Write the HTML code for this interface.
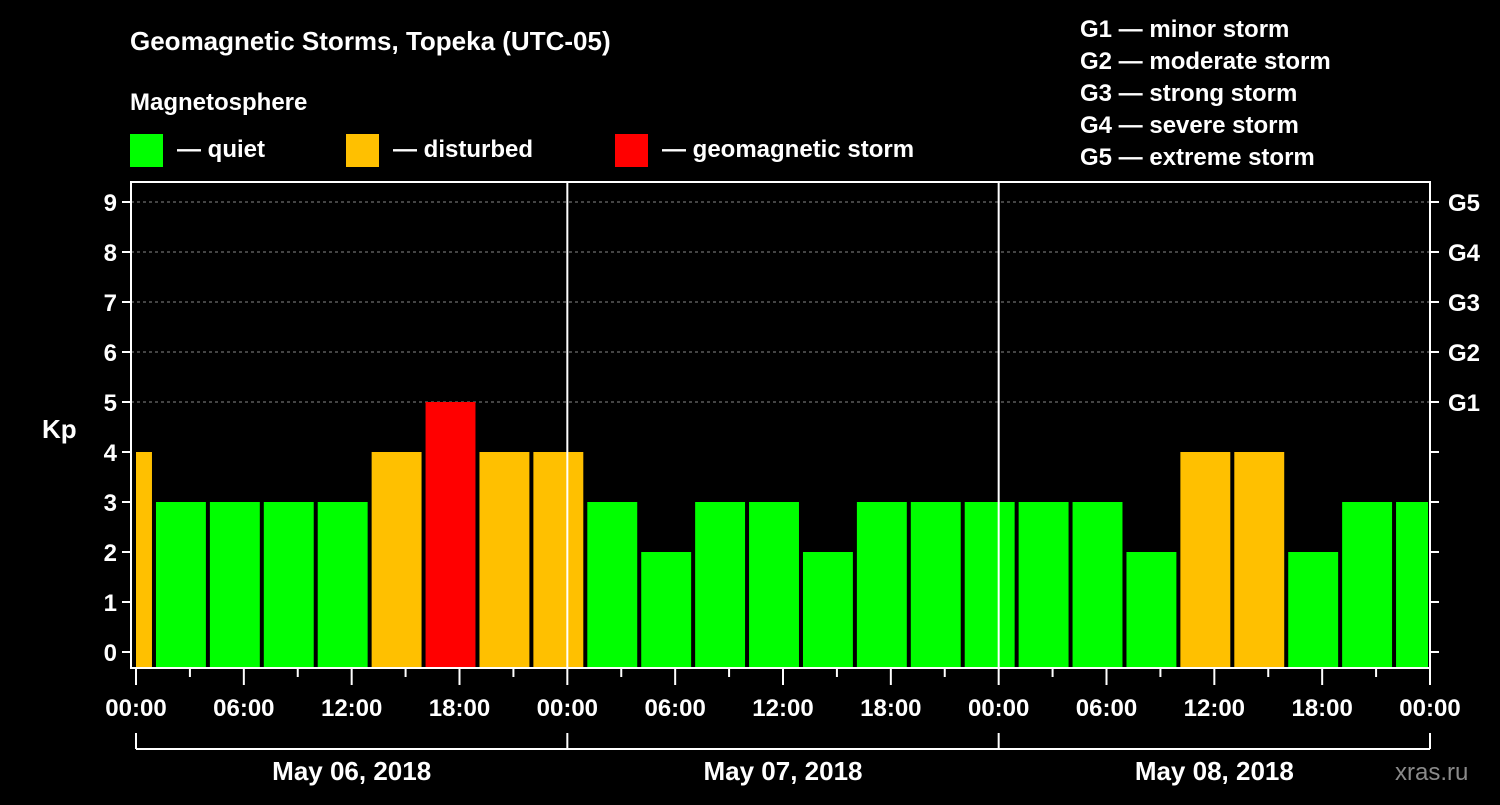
<!DOCTYPE html>
<html><head><meta charset="utf-8"><style>
body{margin:0;background:#000;width:1500px;height:800px;overflow:hidden}
svg text{font-family:"Liberation Sans",Arial,sans-serif;font-weight:bold;fill:#fff}
</style></head><body>
<svg id="c" width="1500" height="800">
<text x="130" y="50" font-size="26">Geomagnetic Storms, Topeka (UTC-05)</text>
<text x="130" y="110" font-size="24">Magnetosphere</text>
<g><rect x="130" y="134" width="33" height="33" fill="#00ff00"/><text x="177" y="157" font-size="24">— quiet</text></g>
<g><rect x="346" y="134" width="33" height="33" fill="#ffc000"/><text x="393" y="157" font-size="24">— disturbed</text></g>
<g><rect x="615" y="134" width="33" height="33" fill="#ff0000"/><text x="662" y="157" font-size="24">— geomagnetic storm</text></g>
<g font-size="24">
<text x="1080" y="37">G1 — minor storm</text><text x="1080" y="69">G2 — moderate storm</text><text x="1080" y="101">G3 — strong storm</text><text x="1080" y="133">G4 — severe storm</text><text x="1080" y="165">G5 — extreme storm</text></g>
<text x="42" y="438" font-size="26">Kp</text>
<text x="1395" y="780" font-size="24" fill="#888" style="fill:#8a8a8a;font-weight:normal">xras.ru</text>
<g id="plot"></g>
</svg>
<script>
const kpValues=[4,3,3,3,3,4,5,4,4,3,2,3,3,2,3,3,3,3,3,2,4,4,2,3,3];
const barStartHours=-2, slotHours=3;
const dayLabels=["May 06, 2018","May 07, 2018","May 08, 2018"];
const yTicks=[0,1,2,3,4,5,6,7,8,9];
const gLabels=["G1","G2","G3","G4","G5"];
const X0=136,X1=1430,H=72,L=131,T=182,B=668;
const x=h=>X0+(X1-X0)*h/H, y=v=>652-50*v;
const NS="http://www.w3.org/2000/svg",P=document.getElementById('plot');
function mk(t,a,par){const e=document.createElementNS(NS,t);for(const k in a)e.setAttribute(k,a[k]);(par||P).appendChild(e);return e;}
// grid
for(let v=5;v<=9;v++){const g=mk('line',{x1:L,x2:X1,y1:y(v),y2:y(v),stroke:'#888','stroke-dasharray':'3,3','stroke-width':1});
}
// bars
kpValues.forEach((v,i)=>{let h0=barStartHours+i*slotHours,h1=h0+slotHours;
let xa=x(h0)+2,xb=x(h1)-2;xa=Math.max(xa,X0);xb=Math.min(xb,X1-2);
const c=v>=5?'#ff0000':v>=4?'#ffc000':'#00ff00';
const r=mk('rect',{x:xa,y:y(v),width:xb-xa,height:B-y(v),fill:c});
});
// day lines
[24,48].forEach(h=>{const l=mk('line',{x1:x(h),x2:x(h),y1:T,y2:B,stroke:'#fff','stroke-width':2});
});
// frame
const f=mk('rect',{x:L,y:T,width:X1-L,height:B-T,fill:'none',stroke:'#fff','stroke-width':2});

// y ticks
yTicks.forEach(v=>{mk('line',{x1:L-9,x2:L,y1:y(v),y2:y(v),stroke:'#fff','stroke-width':2});
mk('line',{x1:X1,x2:X1+9,y1:y(v),y2:y(v),stroke:'#fff','stroke-width':2});
const t=mk('text',{x:L-14,y:y(v)+9,'font-size':24,'text-anchor':'end'});t.textContent=v;

if(v>=5){const g=mk('text',{x:X1+18,y:y(v)+9,'font-size':24});g.textContent=gLabels[v-5];
}});
// x ticks
for(let h=0;h<=H;h+=3){const maj=h%6==0;mk('line',{x1:x(h),x2:x(h),y1:B,y2:B+(maj?17:9),stroke:'#fff','stroke-width':2});
if(maj){const t=mk('text',{x:x(h),y:716,'font-size':24,'text-anchor':'middle'});t.textContent=String(h%24).padStart(2,'0')+':00';
}}
// date bracket
mk('line',{x1:X0,x2:X1,y1:749,y2:749,stroke:'#fff','stroke-width':2});
[0,24,48,72].forEach(h=>mk('line',{x1:x(h),x2:x(h),y1:733,y2:749,stroke:'#fff','stroke-width':2}));
dayLabels.forEach((d,i)=>{const t=mk('text',{x:x(i*24+12),y:780,'font-size':26,'text-anchor':'middle'});t.textContent=d;
});
</script></body></html>
